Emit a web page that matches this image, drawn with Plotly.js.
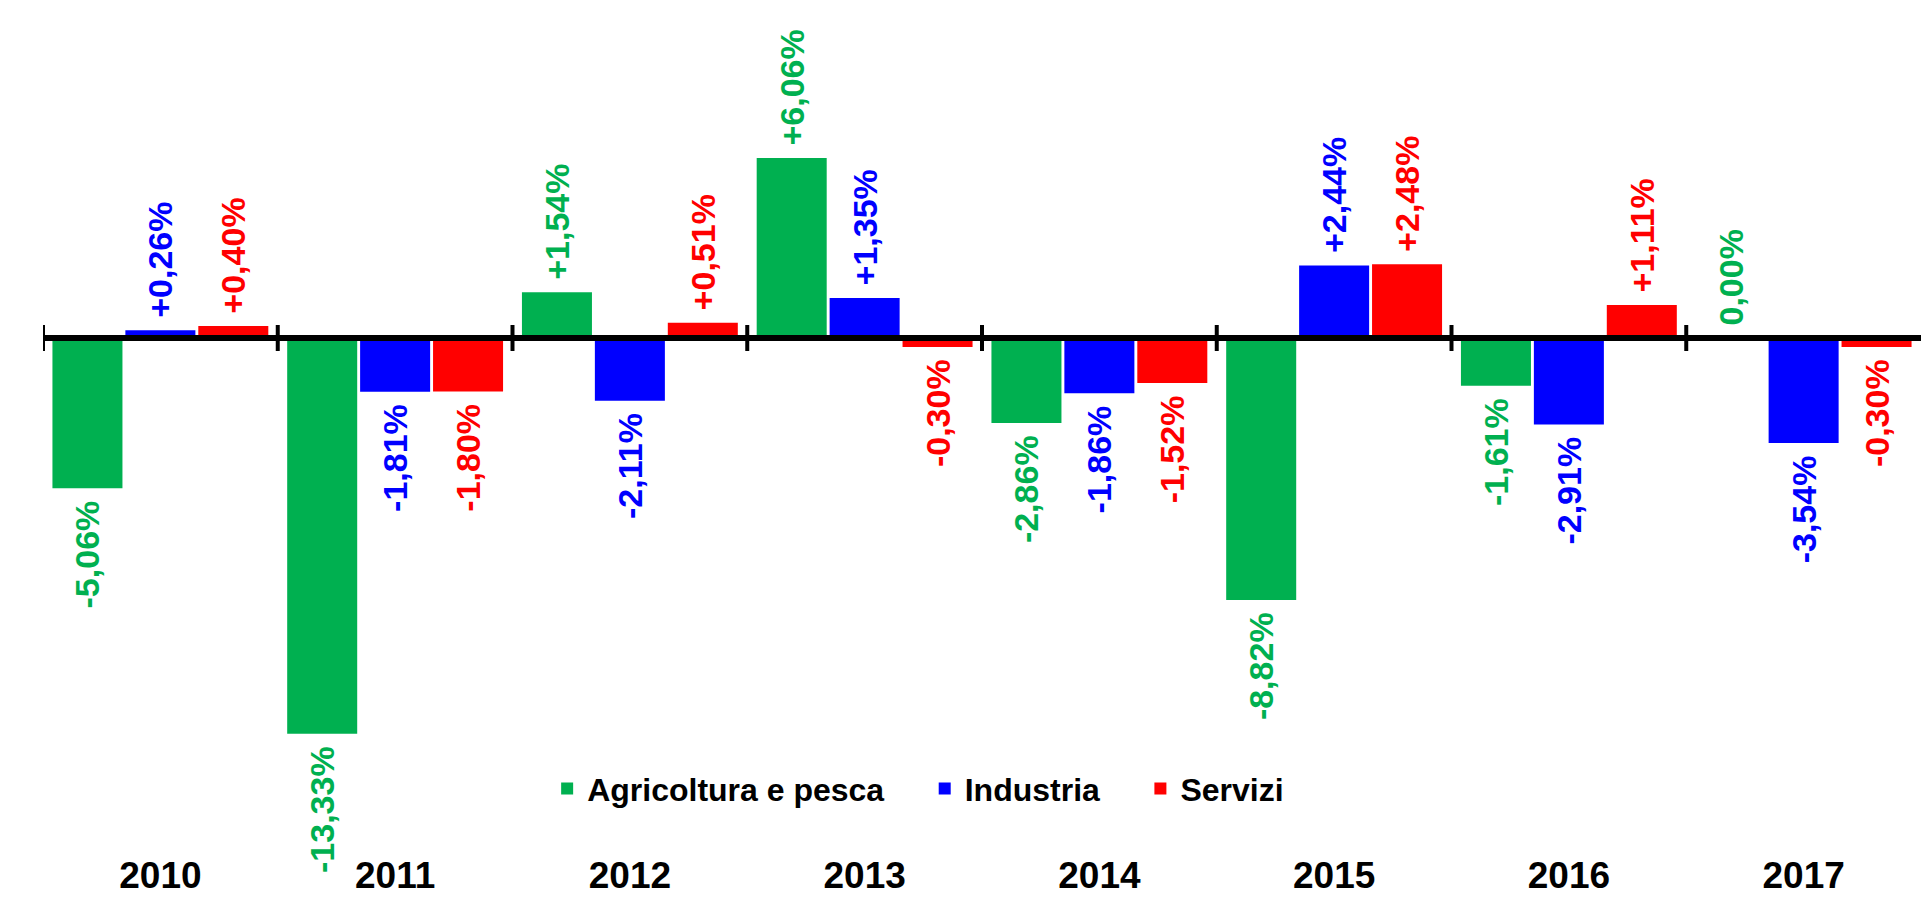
<!DOCTYPE html>
<html>
<head>
<meta charset="utf-8">
<script src="https://cdn.plot.ly/plotly-3.0.1.min.js"></script>
<style>html,body{margin:0;padding:0;background:#fff;}#chart{width:1921px;height:912px;}</style>
</head>
<body>
<div id="chart"></div>
<script>
const years = ['2010','2011','2012','2013','2014','2015','2016','2017'];
const agricoltura = [-5.06, -13.33, 1.54, 6.06, -2.86, -8.82, -1.61, 0.00];
const industria = [0.26, -1.81, -2.11, 1.35, -1.86, 2.44, -2.91, -3.54];
const servizi = [0.40, -1.80, 0.51, -0.30, -1.52, 2.48, 1.11, -0.30];
const seriesNames = ['Agricoltura e pesca', 'Industria', 'Servizi'];
const seriesColors = ['#00B050', '#0000FF', '#FF0000'];

const NB = '\u00a0';
function fmt(v) {
  const s = (v > 0 ? '+' : '') + v.toFixed(2).replace('.', ',') + '%';
  return v < 0 ? s + NB : NB + s;
}

const FONT = 'Liberation Sans, Arial, sans-serif';
const data = [agricoltura, industria, servizi].map((vals, k) => ({
  type: 'bar',
  name: seriesNames[k] + (k < seriesNames.length - 1 ? NB.repeat(4) : ''),
  x: years,
  y: vals,
  text: vals.map(fmt),
  textposition: 'outside',
  textangle: -90,
  constraintext: 'none',
  cliponaxis: false,
  textfont: {family: FONT, size: 34, weight: 'bold', color: seriesColors[k]},
  marker: {color: seriesColors[k], line: {width: 0}},
  hoverinfo: 'skip'
}));

const shapes = [{
  type: 'line', xref: 'paper', yref: 'y', x0: 0, x1: 1, y0: 0, y1: 0,
  line: {color: '#000', width: 6}, layer: 'above'
}];
for (let i = 0; i < years.length; i++) {
  shapes.push({
    type: 'line', xref: 'x', yref: 'y', ysizemode: 'pixel', yanchor: 0,
    x0: i - 0.5, x1: i - 0.5, y0: -13, y1: 13,
    line: {color: '#000', width: 4}, layer: 'above'
  });
}

const layout = {
  width: 1921, height: 912,
  margin: {l: 43, r: 0, t: 0, b: 62},
  paper_bgcolor: '#ffffff', plot_bgcolor: '#ffffff',
  font: {family: FONT, color: '#000'},
  barmode: 'group', bargap: 0.068, bargroupgap: 0.04,
  showlegend: true,
  legend: {
    orientation: 'h', xref: 'paper', yref: 'paper',
    x: 0.466, xanchor: 'center', y: 0.072, yanchor: 'middle',
    font: {family: FONT, size: 32, weight: 'bold', color: '#000'},
    bgcolor: 'rgba(0,0,0,0)'
  },
  xaxis: {
    type: 'category', range: [-0.5, 7.5],
    showline: false, showgrid: false, zeroline: false, ticks: '',
    tickfont: {family: FONT, size: 37, weight: 'bold', color: '#000'},
    fixedrange: true
  },
  yaxis: {
    range: [-17.24, 11.38],
    showticklabels: false, showgrid: false, zeroline: false, showline: false, ticks: '',
    fixedrange: true
  },
  shapes: shapes
};

Plotly.newPlot('chart', data, layout, {displayModeBar: false, staticPlot: true});
</script>
</body>
</html>
